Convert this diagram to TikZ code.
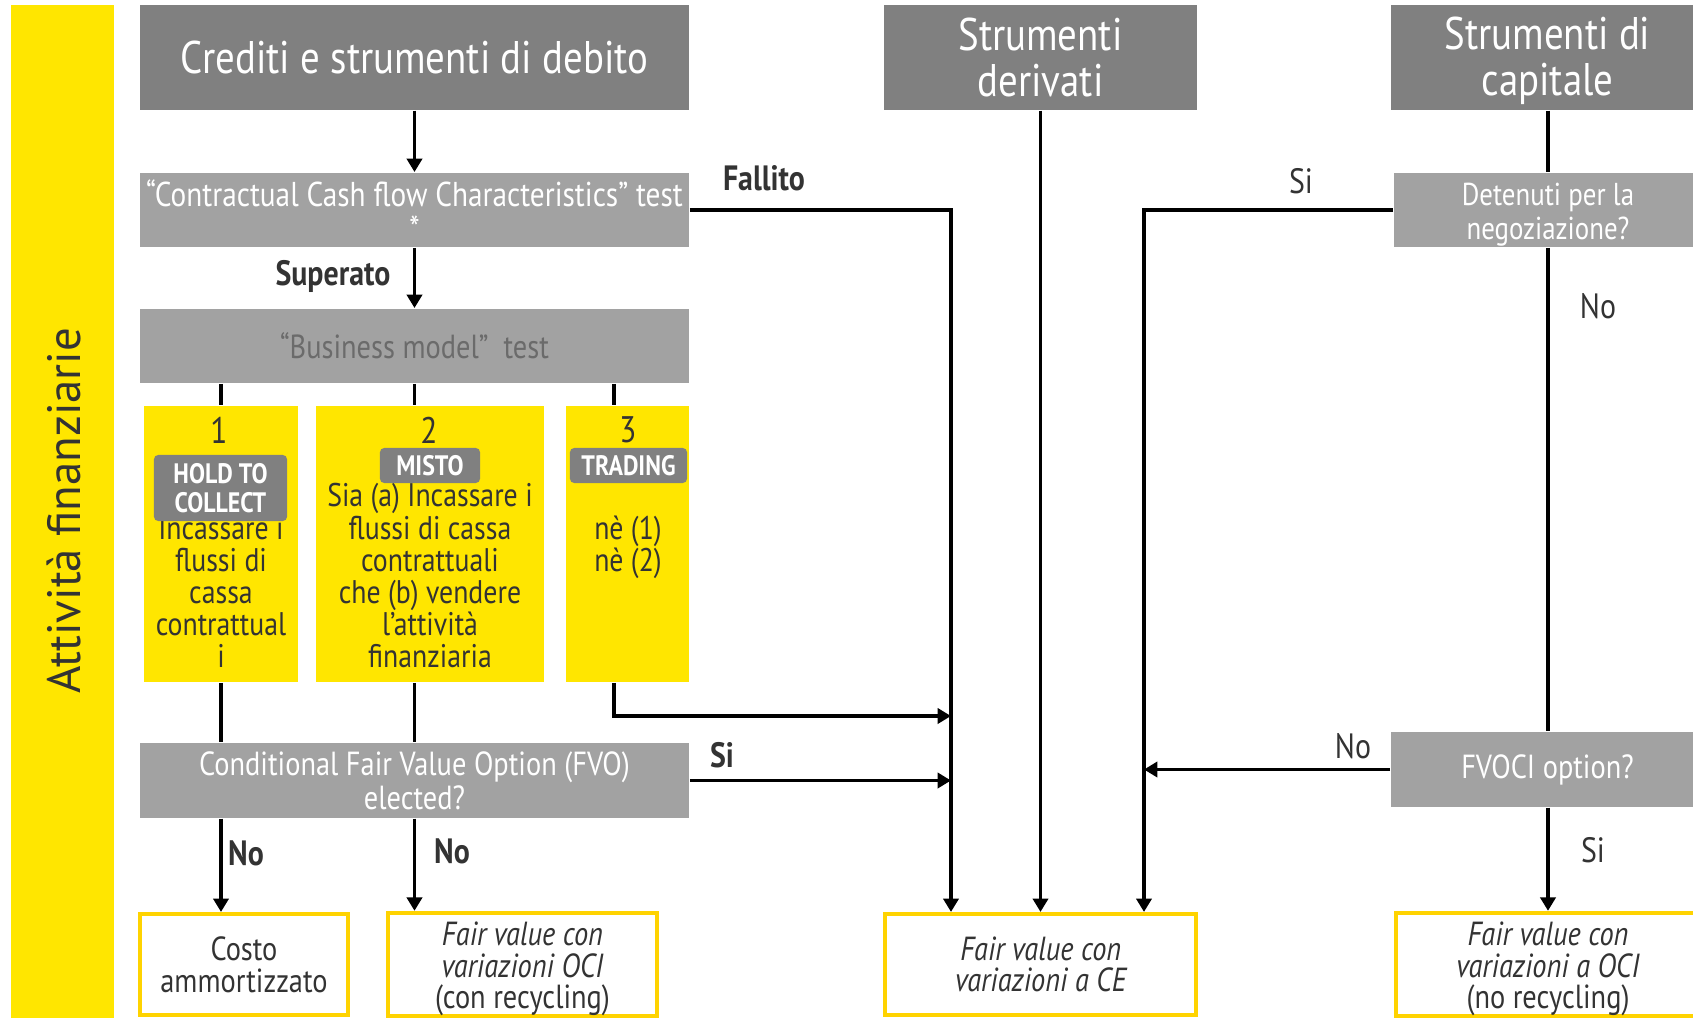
\documentclass[tikz,border=0pt]{standalone}
\usepackage{fontspec}
\setmainfont{PT Sans}[FakeStretch=0.85]
\newfontfamily\sidefont{PT Sans}
\usepackage{xcolor}
\usetikzlibrary{arrows.meta}

\definecolor{eyyellow}{HTML}{FFE600}
\definecolor{resyellow}{HTML}{FFD300}
\definecolor{hdrgray}{HTML}{808080}
\definecolor{testgray}{HTML}{A2A2A2}
\definecolor{bmtext}{HTML}{6B6B6B}
\definecolor{txtdark}{HTML}{333333}

\begin{document}
\begin{tikzpicture}[x=0.01cm, y=-0.01cm]
        % ================= stili =================
        \tikzset{
            % intestazioni grigio scuro
            hdr/.style={rectangle, fill=hdrgray, text=white, inner sep=0pt, align=center,
                minimum height=1.05cm, font=\fontsize{13}{13}\selectfont},
            % box dei test (grigio chiaro)
            testbox/.style={rectangle, fill=testgray, text=white, inner sep=0pt, align=center,
                minimum height=0.745cm, font=\fontsize{9.5}{9.6}\selectfont},
            % colonne gialle dei business model
            ybox/.style={rectangle, fill=eyyellow, inner sep=0pt, minimum height=2.76cm},
            % etichette grigie dentro le colonne
            tagbox/.style={rectangle, rounded corners=1.2pt, fill=hdrgray, text=white, inner sep=0pt,
                align=center, font=\bfseries\fontsize{8}{8.3}\selectfont},
            num/.style={text=txtdark, inner sep=0pt, font=\fontsize{10.5}{11}\selectfont},
            % testo delle colonne: ancorato alla linea di base dell'ultima riga
            body/.style={text=txtdark, align=center, inner sep=0pt, anchor=base,
                font=\fontsize{9.3}{9.1}\selectfont},
            % box dei risultati (bordo giallo)
            resbox/.style={rectangle, draw=resyellow, line width=1.15pt, fill=white, text=txtdark,
                inner sep=0pt, align=center, minimum height=1.01cm, font=\fontsize{9.5}{9}\selectfont},
            flow/.style={-{Triangle[length=3.8pt, width=4.3pt]}, line width=1pt},
            link/.style={line width=1pt},
            lbl/.style={text=txtdark, inner sep=0pt, font=\fontsize{10}{10}\selectfont},
            blbl/.style={lbl, font=\bfseries\fontsize{10}{10}\selectfont}
        }

        \useasboundingbox (0,0) rectangle (1693,1018);

        % ================= barra laterale =================
        \node[ybox, minimum width=1.03cm, minimum height=10.3cm] (sidebar) at (62.5,520) {};
        \node[rotate=90, text=txtdark, inner sep=0pt, font=\sidefont\fontsize{13.3}{14}\selectfont] (sidelbl) at (64,511) {Attività finanziarie};

        % ================= intestazioni =================
        \node[hdr, minimum width=5.49cm] (cred) at (414.5,57.5) {Crediti e strumenti di debito};
        \node[hdr, minimum width=3.13cm] (der) at (1040.5,57.5) {Strumenti\\derivati};
        \node[hdr, minimum width=3.13cm] (cap) at (1547.5,57.5) {\rule{0pt}{11pt}Strumenti di\\capitale};

        % ================= test =================
        \node[testbox, minimum width=5.49cm, font=\fontsize{9.8}{9.6}\selectfont] (cct) at (414.5,210) {“Contractual Cash flow Characteristics” test\\*};
        \node[testbox, minimum width=5.49cm, text=bmtext] (bm) at (414.5,346) {“Business model”\ \ test};
        \node[testbox, minimum width=5.49cm, minimum height=0.75cm] (fvo) at (414.5,780.5) {Conditional Fair Value Option (FVO)\\elected?};
        \node[testbox, minimum width=3.08cm, font=\fontsize{9}{9.7}\selectfont] (det) at (1548,210) {\rule{0pt}{9pt}Detenuti per la\\negoziazione?};
        \node[testbox, minimum width=3.13cm, minimum height=0.75cm] (fvoci) at (1547.5,769.5) {FVOCI option?};

        % ================= business model 1, 2, 3 =================
        \node[ybox, minimum width=1.54cm] (hold) at (221,544) {};
        \node[ybox, minimum width=2.28cm] (misto) at (430,544) {};
        \node[ybox, minimum width=1.23cm] (trad) at (627.5,544) {};

        \node[num] (n1) at (219,430) {1};
        \node[num] (n2) at (429,430) {2};
        \node[num] (n3) at (628,430) {3};

        \node[body] (holdtxt) at (221,667) {Incassare i\\flussi di\\cassa\\contrattual\\i};
        \node[body] (mistotxt) at (430,667) {Sia (a) Incassare i\\flussi di cassa\\contrattuali\\che (b) vendere\\l’attività\\finanziaria};
        \node[body] (tradtxt) at (628,571) {nè (1)\\nè (2)};

        \node[tagbox, minimum width=1.33cm, minimum height=0.66cm] (holdtag) at (220.5,488) {HOLD TO\\COLLECT};
        \node[tagbox, minimum width=1.0cm, minimum height=0.35cm] (mistotag) at (430,465.5) {MISTO};
        \node[tagbox, minimum width=1.17cm, minimum height=0.35cm] (tradtag) at (628.5,465.5) {TRADING};

        % ================= risultati =================
        \node[resbox, minimum width=2.08cm] (costo) at (244,964.5) {Costo\\ammortizzato};
        \node[resbox, minimum width=2.68cm] (oci) at (522.5,964.5) {\rule{0pt}{9.3pt}\itshape Fair value con\\\itshape variazioni OCI\\(con recycling)};
        \node[resbox, minimum width=3.11cm] (ce) at (1040.75,964.5) {\itshape Fair value con\\\itshape variazioni a CE};
        \node[resbox, minimum width=3.04cm] (ocino) at (1548,964.5) {\rule{0pt}{9.3pt}\itshape Fair value con\\\itshape variazioni a OCI\\(no recycling)};

        % colonne dei collegamenti verso CE
        \coordinate (colA) at (951,0);
        \coordinate (colB) at (1144,0);
        \coordinate (tradturn) at (614,716);

        % ================= collegamenti =================
        \draw[flow] (cred) -- (cct);
        \draw[flow] (cct) -- (bm);
        \draw[flow] (cct.east) -| (ce.north -| colA);

        \draw[link] (bm.south -| hold) -- (hold.north);
        \draw[link] (bm.south) -- (bm.south |- misto.north);
        \draw[link] (bm.south -| tradturn) -- (trad.north -| tradturn);

        \draw[link] (hold.south) -- (hold.south |- fvo.north);
        \draw[link] (misto.south -| cred) -- (fvo.north);
        \draw[flow] (trad.south -| tradturn) -- (tradturn) -- (tradturn -| colA);

        \draw[flow] (fvo.east) -- (fvo.east -| colA);
        \draw[flow] (fvo.south -| hold) -- (costo.north -| hold);
        \draw[flow] (fvo.south) -- (fvo.south |- oci.north);

        \draw[flow] (der.south) -- (der.south |- ce.north);
        \draw[flow] (det.west) -| (ce.north -| colB);
        \draw[flow] (fvoci.west) -- (fvoci.west -| colB);

        \draw[link] (cap.south -| det) -- (det.north);
        \draw[link] (det.south) -- (det.south |- fvoci.north);
        \draw[flow] (fvoci.south -| ocino) -- (ocino.north);

        % ================= etichette =================
        \node[blbl] (fallito) at (764,178) {Fallito};
        \node[blbl] (superato) at (333,276) {Superato};
        \node[lbl] (sidet) at (1301,181) {Si};
        \node[lbl] (nodet) at (1598,306) {No};
        \node[blbl] (sifvo) at (722,755) {Si};
        \node[lbl] (nofvoci) at (1353,746) {No};
        \node[blbl] (nohold) at (246,853) {No};
        \node[blbl] (nomisto) at (452,851) {No};
        \node[lbl] (sifvoci) at (1593,850) {Si};

    \end{tikzpicture}
\end{document}
